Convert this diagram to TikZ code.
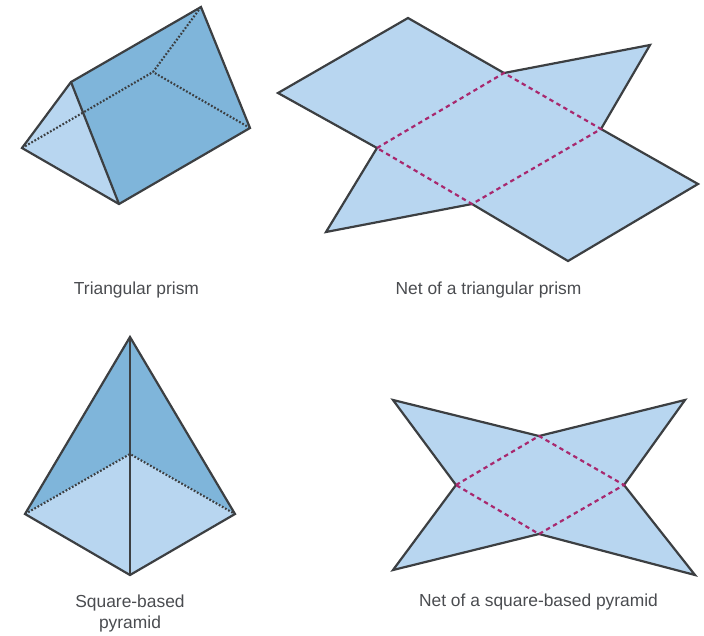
\documentclass[tikz,border=0pt]{standalone}
\usepackage{fontspec}
\setmainfont{Liberation Sans}
\definecolor{lightface}{HTML}{B8D6F0}
\definecolor{darkface}{HTML}{7FB5DA}
\definecolor{edgecol}{HTML}{3C3F42}
\definecolor{foldcol}{HTML}{A8286E}
\definecolor{labelcol}{HTML}{4A4C50}
\tikzset{
  solidedge/.style={draw=edgecol,line width=2.2pt,line join=miter},
  hiddenedge/.style={draw=edgecol,line width=2.1pt,dash pattern=on 1.8pt off 1.8pt},
  foldedge/.style={draw=foldcol,line width=2.2pt,dash pattern=on 4.4pt off 3.6pt},
  caption/.style={text=labelcol,font=\fontsize{17.4}{21}\selectfont,align=center,inner sep=0pt}
}
\begin{document}
\begin{tikzpicture}[x=1pt,y=-1pt]
\useasboundingbox (0,0) rectangle (704,635);
% triangular prism
\coordinate (pa) at (22,148);
\coordinate (pb) at (71,82);
\coordinate (pc) at (119,204);
\coordinate (pd) at (201,7);
\coordinate (pe) at (250,128);
\coordinate (pf) at (153,72);
\fill[lightface] (pa)--(pb)--(pc)--cycle;
\fill[darkface] (pb)--(pd)--(pe)--(pc)--cycle;
\draw[hiddenedge] (pa)--(pf);
\draw[hiddenedge] (pd)--(pf);
\draw[hiddenedge] (pe)--(pf);
\draw[solidedge] (pa)--(pb)--(pd)--(pe)--(pc)--cycle;
\draw[solidedge] (pb)--(pc);
% net of prism
\coordinate (n1) at (278,93);
\coordinate (n2) at (408,18);
\coordinate (n3) at (504,73);
\coordinate (n4) at (650,45);
\coordinate (n5) at (601,129);
\coordinate (n6) at (698,184);
\coordinate (n7) at (568,261);
\coordinate (n8) at (472,204);
\coordinate (n9) at (326,232);
\coordinate (n10) at (377,148);
\filldraw[fill=lightface,solidedge] (n1)--(n2)--(n3)--(n4)--(n5)--(n6)--(n7)--(n8)--(n9)--(n10)--cycle;
\draw[foldedge] (n10)--(n3)--(n5)--(n8)--cycle;
% square pyramid
\coordinate (qa) at (130,337);
\coordinate (ql) at (25,514);
\coordinate (qr) at (235,514);
\coordinate (qb) at (130,575);
\coordinate (qk) at (130,454);
\fill[darkface] (ql)--(qa)--(qr)--(qk)--cycle;
\fill[lightface] (ql)--(qk)--(qr)--(qb)--cycle;
\draw[hiddenedge] (ql)--(qk)--(qr);
\draw[solidedge] (ql)--(qa)--(qr)--(qb)--cycle;
\draw[solidedge] (qa)--(qb);
% net of pyramid
\coordinate (m1) at (393,400);
\coordinate (m2) at (539,436);
\coordinate (m3) at (685,400);
\coordinate (m4) at (624,485);
\coordinate (m5) at (695,575);
\coordinate (m6) at (539,534);
\coordinate (m7) at (393,570);
\coordinate (m8) at (456,485);
\filldraw[fill=lightface,solidedge] (m1)--(m2)--(m3)--(m4)--(m5)--(m6)--(m7)--(m8)--cycle;
\draw[foldedge] (m8)--(m2)--(m4)--(m6)--cycle;
% captions
\node[caption] (c1) at (136.5,290) {Triangular prism};
\node[caption] (c2) at (488.5,290) {Net of a triangular prism};
\node[caption] (c3) at (130,613) {Square-based\\pyramid};
\node[caption] (c4) at (538.5,602) {Net of a square-based pyramid};
\end{tikzpicture}
\end{document}
